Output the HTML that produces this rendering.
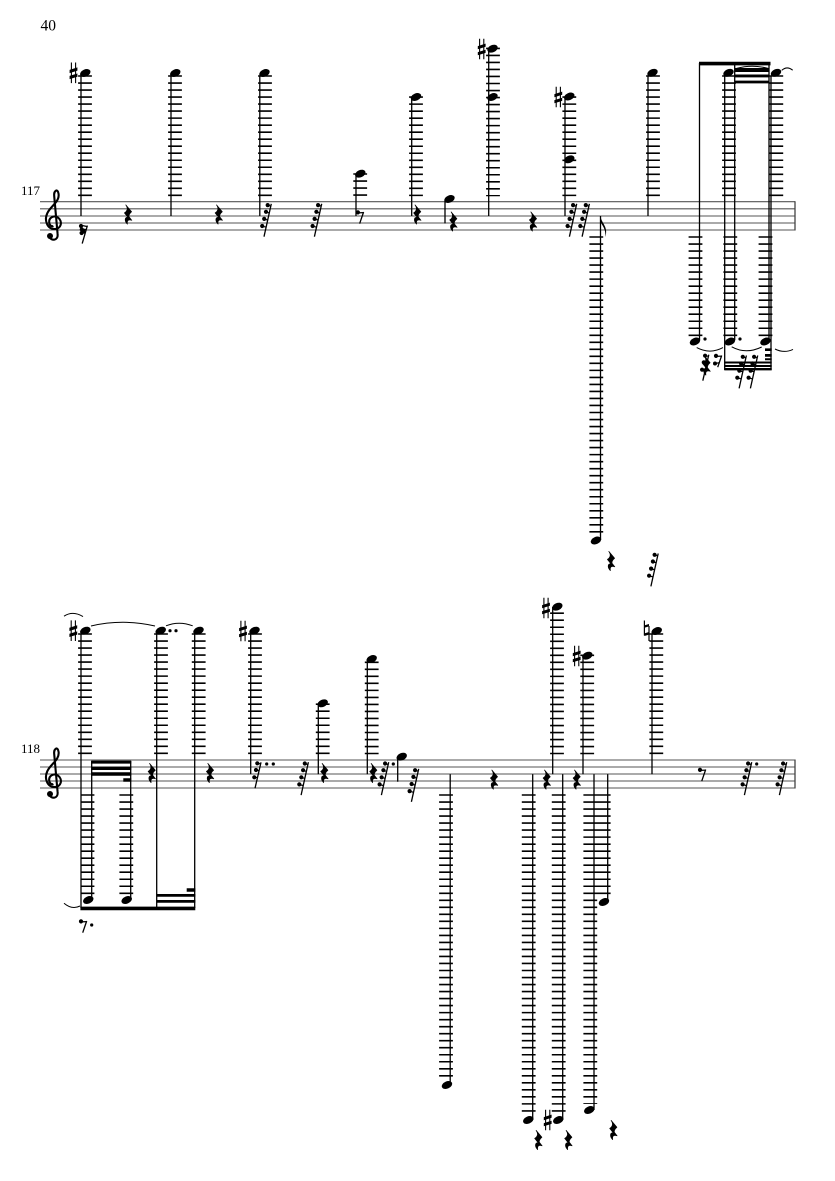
<!DOCTYPE html>
<html><head><meta charset="utf-8"><style>
html,body{margin:0;padding:0;background:#fff}
svg{display:block}
.s{stroke:#555;stroke-width:1.1;fill:none}
.t{stroke:#000;stroke-width:1.3;fill:none}
.L{stroke:#000;stroke-width:13.8;stroke-dasharray:1.6 5.42;fill:none}
.c{stroke:#000;stroke-width:1;fill:none}
text{font-family:"Liberation Serif",serif;fill:#000}
</style></head><body>
<svg width="835" height="1181" viewBox="0 0 835 1181" xmlns="http://www.w3.org/2000/svg">
<defs>
<ellipse id="h" rx="5.5" ry="3.6" transform="rotate(-24)"/>
<g id="sh"><path d="M-2.1,-10.3V10.3M2.1,-10.3V10.3" stroke="#000" stroke-width="1.1" fill="none"/><path d="M-3.9,-2.9L3.9,-5.4V-2.2L-3.9,.3ZM-3.9,3.1L3.9,.7V3.9L-3.9,6.3Z"/></g>
<g id="q"><path d="M-2.2,-9.6L3.6,-2.8C1.6,-1,.6,.4,1,2.2L3.8,5.8C1.2,4.8,-1.4,5.4,-.6,9.6C-3.2,7.2,-4,3,-.2,2.6L-3.6,-1.6C-1.2,-3.2,.6,-5.6,-2.2,-9.6Z" stroke="#000" stroke-width=".7" stroke-linejoin="round"/></g>
<g id="m4"><path d="M3.7,-16.5L-3.6,16.4" class="t"/><path d="M0,-15L3.2,-14.2M-1.5,-8L1.7,-7.4M-3.3,-1L0,-.4M-5.3,6L-1.6,6.8" stroke="#000" stroke-width="1.2" fill="none"/><circle cx=".1" cy="-15.2" r="2.1"/><circle cx="-1.6" cy="-8.5" r="2.1"/><circle cx="-3.4" cy="-1.4" r="2.1"/><circle cx="-5.4" cy="5.7" r="2.1"/></g>
<g id="m3"><path d="M3,-13L-3,13" class="t"/><path d="M-.7,-12L2.6,-11.4M-2,-5.3L1.2,-4.6M-3.7,1.8L-.4,2.4" stroke="#000" stroke-width="1.2" fill="none"/><circle cx="-.7" cy="-12" r="2.1"/><circle cx="-2" cy="-5.3" r="2.1"/><circle cx="-3.7" cy="2" r="2.1"/></g>
<g id="r8"><path d="M0,0L-4,11.7" class="t"/><path d="M-5.5,.9L-.2,.6" stroke="#000" stroke-width="1.2"/><circle cx="-5.7" cy=".4" r="2.1"/></g>
<g id="cl"><path d="M57.6,234C58.4,241 51,241 49.4,237M57.6,234L54.2,196C53.6,191 57.6,187.6 58.6,194C59.6,202 50.6,206 47.4,213C44,220 47,229 54.4,229C61.4,229 63,221.4 58,217.6C54,215 48.6,217.4 49.2,222.6C49.6,225.6 51.8,226.8 53.4,226" fill="none" stroke="#000" stroke-width="2.1"/><circle cx="50" cy="236" r="3"/></g>
</defs>

<text x="40.5" y="30.7" font-size="15.5">40</text>
<text x="21" y="195" font-size="13">117</text>
<text x="21" y="753" font-size="13">118</text>

<!-- staves -->
<path class="s" d="M40,201.7H795M40,208.8H795M40,216H795M40,223H795M40,230H795"/>
<path class="s" d="M40,760H795M40,767H795M40,774H795M40,781H795M40,788H795"/>
<path d="M795,201.2V230.5M795,759.5V788.5" stroke="#444" stroke-width="1.3" fill="none"/>
<use href="#cl"/>
<use href="#cl" y="558"/>

<!-- SYSTEM 1 ledgers -->
<path class="L" d="M85,75.2V196.3M175,75.2V196.3M265,75.2V196.3M653,75.2V196.3"/>
<path class="L" d="M360.2,173.2V196.3M416,96.3V196.3M493,47.6V196.3M569.3,96.3V196.3"/>
<path class="L" d="M596.3,236.2V535M695.5,236.2V337M730.3,236.2V337M765.5,236.2V337M729,75.2V196.3M776.3,75.2V196.3"/>

<!-- SYSTEM 1 stems -->
<path class="t" d="M81,76V216M171,76V216M259.8,76V216M648,76V216M356,174V216M411.7,97V216M488.7,49V216M565,97V216M445,201V223.5"/>
<path class="t" d="M600.5,216V540M699.5,63V340M724.7,76V370M734.7,65V340M769,65V340M771,76V370"/>
<path d="M600.5,216.5C602,224 608.5,227 605.3,237C606,229 602.5,226 600.5,222Z"/>

<!-- SYSTEM 1 beams -->
<path d="M699,61.8H770.5V65.4H699ZM734.7,68H769.5V72H734.7ZM734.7,74.5H769.5V77.4H734.7ZM734.7,80.6H769.5V83.4H734.7Z"/>
<path d="M724.3,361.5H771.7V363.5H724.3ZM724.3,365H771.7V367H724.3ZM724.3,368H771.7V370.4H724.3ZM765,348.4H771.7V351H765ZM765,354H771.7V356.8H765ZM765,358.2H771.7V360.2H765Z"/>

<!-- SYSTEM 1 heads -->
<use href="#h" x="85.3" y="73"/><use href="#h" x="175.3" y="73"/><use href="#h" x="264.5" y="73"/><use href="#h" x="652.5" y="72.8"/>
<use href="#h" x="360.3" y="173.7"/><use href="#h" x="416" y="97"/><use href="#h" x="449.5" y="199"/>
<use href="#h" x="492.5" y="48.7"/><use href="#h" x="492.5" y="97"/><use href="#h" x="569.3" y="96.5"/><use href="#h" x="569.3" y="159.3"/>
<use href="#h" x="596" y="540.5"/><use href="#h" x="695" y="341.5"/><use href="#h" x="730" y="341.5"/><use href="#h" x="765.5" y="341.5"/>
<use href="#h" x="728.5" y="72.8"/><use href="#h" x="776" y="72.8"/>

<!-- SYSTEM 1 accidentals -->
<use href="#sh" x="73.5" y="72.8"/><use href="#sh" x="481.7" y="49"/><use href="#sh" x="558.3" y="97"/>

<!-- SYSTEM 1 rests -->
<use href="#q" x="128" y="214.5"/><use href="#q" x="218.7" y="214.5"/><use href="#q" x="417.2" y="214.5"/><use href="#q" x="453.3" y="221.5"/><use href="#q" x="533" y="221.5"/><use href="#q" x="611" y="561"/>
<use href="#m4" x="267.6" y="220.3"/><use href="#m4" x="318" y="220.3"/><use href="#m4" x="573" y="220.3"/><use href="#m4" x="585.7" y="220.3"/><use href="#m4" x="654.5" y="570"/><use href="#m4" x="742.7" y="372"/><use href="#m4" x="754" y="372"/>
<use href="#r8" x="363.6" y="212"/><use href="#r8" x="721.7" y="355.5"/>
<path class="t" d="M87.4,225.6L82.2,243.6"/>
<path d="M86.8,226.5L80,225M86,229.5L81,229M85,233L80.6,233" stroke="#000" stroke-width="1.2" fill="none"/>
<circle cx="81" cy="226" r="2.1"/><circle cx="81.8" cy="229.5" r="2.1"/><circle cx="81.6" cy="233" r="2.1"/><circle cx="83.4" cy="231" r="2"/>
<circle cx="715" cy="363.5" r="2"/><path d="M715,363.5L719.8,362.6" stroke="#000" stroke-width="1.2"/>
<use href="#m3" x="705.8" y="367.7"/><use href="#q" x="706.5" y="365.5"/>

<!-- SYSTEM 1 ties -->
<path class="c" d="M736.7,68.4Q752,64 768,68.4M781.7,70.4Q787,65.6 792.7,70.2M696.7,347.6Q710,354.6 723,347.6M731.7,346.8Q746,354.6 761.7,347M775,349Q784,353.6 793,349.4"/>
<circle cx="705" cy="339" r="1.6"/><circle cx="740" cy="339" r="1.6"/>

<!-- SYSTEM 2 ledgers -->
<path class="L" d="M85,633.2V754.3M161,633.2V754.3M198.7,633.2V754.3M255,633.2V754.3M322.7,703.4V754.3M371.7,661.5V754.3"/>
<path class="L" d="M557,612.4V754.3M587.2,654.5V754.3M656.3,633.2V754.3"/>
<path class="L" d="M87.5,794.2V894.5M126.3,794.2V894.5M446,794.2V1079M528.7,794.2V1117M558.7,794.2V1117M590.3,794.2V1104M603.7,794.2V894.5"/>

<!-- SYSTEM 2 stems -->
<path class="t" d="M81,634V908M91.7,761V900M130.7,761V900M156.7,634V908M194.7,634V908"/>
<path class="t" d="M250.7,634V774.3M318.3,705V774.3M367.3,662V774.3M397.7,759V781.7M552.7,607V774.3M583,656V774.3M652,634V774.3"/>
<path class="t" d="M450.2,774.3V1085M532.7,774.3V1120M562.7,774.3V1120M594,774.3V1110M607.7,774.3V902"/>

<!-- SYSTEM 2 beams -->
<path d="M80.4,906.6H195.3V910.2H80.4ZM156.7,894H195.3V896.8H156.7ZM156.7,900H195.3V902.8H156.7ZM186.7,888.3H195.3V891.7H186.7Z"/>
<path d="M91.2,760.6H131.2V763.6H91.2ZM91.2,766.6H131.2V770H91.2ZM91.2,772.3H131.2V775.7H91.2ZM123.3,778.3H131.2V781.7H123.3Z"/>

<!-- SYSTEM 2 heads -->
<use href="#h" x="85.3" y="630.7"/><use href="#h" x="160.7" y="630.7"/><use href="#h" x="198.5" y="630.7"/><use href="#h" x="254.5" y="630.7"/>
<use href="#h" x="322.7" y="703.3"/><use href="#h" x="371.7" y="659"/><use href="#h" x="401.7" y="756.7"/><use href="#h" x="557.3" y="606.7"/><use href="#h" x="587.3" y="655.7"/><use href="#h" x="656.7" y="631"/>
<use href="#h" x="88.3" y="900"/><use href="#h" x="126.7" y="900"/><use href="#h" x="447" y="1085"/><use href="#h" x="528.3" y="1120"/><use href="#h" x="558.3" y="1120"/><use href="#h" x="589.3" y="1110"/><use href="#h" x="604" y="902"/>

<!-- SYSTEM 2 accidentals -->
<use href="#sh" x="73.3" y="630.7"/><use href="#sh" x="243" y="631"/><use href="#sh" x="546" y="608"/><use href="#sh" x="576.7" y="656"/><use href="#sh" x="547.7" y="1120"/>
<path d="M644.4,620.5V635.5" stroke="#000" stroke-width="1.2" fill="none"/><path d="M649,626V641" stroke="#000" stroke-width="1.2" fill="none"/><path d="M644.4,625.4L649,624V626.4L644.4,627.8ZM644.4,633.4L649,632V634.6L644.4,636Z"/>

<!-- SYSTEM 2 rests -->
<use href="#q" x="151.7" y="773"/><use href="#q" x="210" y="773"/><use href="#q" x="324.3" y="773"/><use href="#q" x="373.3" y="773"/><use href="#q" x="494" y="779.6"/><use href="#q" x="546.7" y="779.6"/><use href="#q" x="576.7" y="779.6"/>
<use href="#q" x="538.3" y="1140"/><use href="#q" x="568.3" y="1140"/><use href="#q" x="613.3" y="1130"/>
<use href="#m3" x="258" y="775.3"/><use href="#m4" x="304.7" y="778.7"/><use href="#m4" x="385" y="778.7"/><use href="#m4" x="415" y="785.4"/><use href="#m4" x="748" y="778.7"/><use href="#m4" x="783" y="778.7"/>
<use href="#r8" x="705.7" y="769.5"/><use href="#r8" x="86.7" y="921"/>

<!-- SYSTEM 2 ties and dots -->
<path class="c" d="M64,616.2Q73,610.4 83,616.6M91,626Q123,618.6 155,626M166,625.8Q179,620.6 192.7,625.8M64,903.2Q72,910 80,906"/>
<g><circle cx="170" cy="630.7" r="1.6"/><circle cx="176" cy="630.7" r="1.6"/><circle cx="266.7" cy="764" r="1.6"/><circle cx="273.3" cy="764" r="1.6"/><circle cx="393.3" cy="764" r="1.6"/><circle cx="756.7" cy="764" r="1.6"/><circle cx="91.7" cy="925" r="1.6"/></g>
</svg>
</body></html>
